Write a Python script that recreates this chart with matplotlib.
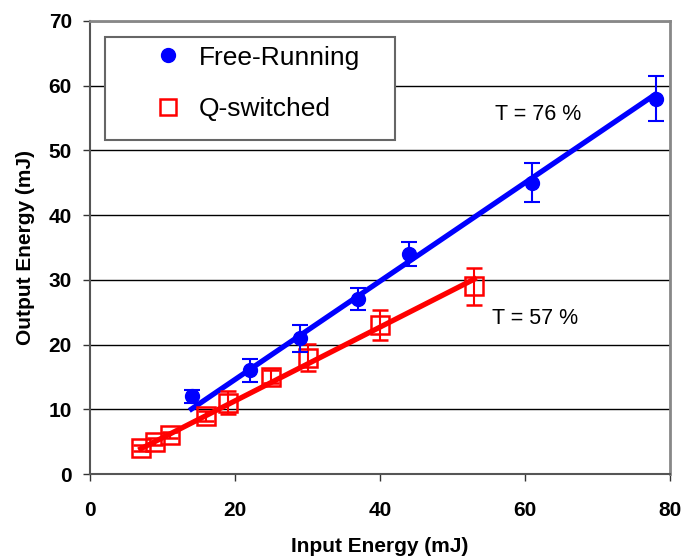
import matplotlib
matplotlib.use("Agg")
import matplotlib.pyplot as plt
from matplotlib.lines import Line2D
from matplotlib.patches import Rectangle
import numpy as np

plt.rcParams['font.family'] = ['Liberation Sans', 'DejaVu Sans']

# Free-running laser output
fr_in = [14, 22, 29, 37, 44, 61, 78]
fr_out = [12, 16, 21, 27, 34, 45, 58]
fr_err = [1.0, 1.8, 2.1, 1.7, 1.8, 3.0, 3.5]

# Q-switched laser output
qs_in = [7, 9, 11, 16, 19, 25, 30, 40, 53]
qs_out = [4, 5, 6, 9, 11, 15, 18, 23, 29]
qs_err = [0.5, 0.5, 0.5, 0.8, 1.8, 1.0, 2.1, 2.3, 2.9]

# Linear fits (slope = transmission efficiency)
fr_slope, fr_icpt = 0.76, -0.6
qs_slope, qs_icpt = 0.57, -0.1

fr_label = "T = 76 %"
qs_label = "T = 57 %"

fig = plt.figure(figsize=(6.94, 5.56), dpi=100)
ax = fig.add_axes([90 / 694, 82 / 556, 580 / 694, 453 / 556])

ax.set_xlim(0, 80)
ax.set_ylim(0, 70)
ax.set_xticks([0, 20, 40, 60, 80])
ax.set_yticks(np.arange(0, 71, 10))
ax.yaxis.grid(True, color='black', linewidth=1.0)
ax.set_axisbelow(True)

for s in ['top', 'right']:
    ax.spines[s].set_color('#888888')
    ax.spines[s].set_linewidth(2.0)
for s in ['left', 'bottom']:
    ax.spines[s].set_color('#555555')
    ax.spines[s].set_linewidth(1.5)

ax.tick_params(axis='both', direction='out', length=5, width=1, color='#333333',
               labelsize=15, pad=8)
ax.tick_params(axis='x', pad=14.5)
for lab in ax.get_xticklabels() + ax.get_yticklabels():
    lab.set_fontweight('bold')

ax.set_xlabel("Input Energy (mJ)", fontsize=15, fontweight='bold', labelpad=12)
ax.set_ylabel("Output Energy (mJ)", fontsize=15, fontweight='bold', labelpad=10)

# Fit lines
xf = np.array([fr_in[0], fr_in[-1]])
ax.plot(xf, fr_slope * xf + fr_icpt, color='blue', linewidth=3.8, zorder=3)
xq = np.array([qs_in[0], qs_in[-1]])
ax.plot(xq, qs_slope * xq + qs_icpt, color='red', linewidth=3.8, zorder=3)

# Data with error bars
ax.errorbar(qs_in, qs_out, yerr=qs_err, fmt='s', color='red', markersize=13,
            markerfacecolor='none', markeredgewidth=1.8, elinewidth=1.5,
            capsize=6, capthick=1.5, zorder=4)
ax.errorbar(fr_in, fr_out, yerr=fr_err, fmt='o', color='blue', markersize=10,
            elinewidth=1.5, capsize=6, capthick=1.5, zorder=5)

ax.text(55.9, 55.6, fr_label, fontsize=15.5, va='center', ha='left')
ax.text(55.5, 24.0, qs_label, fontsize=15.5, va='center', ha='left')

# Legend with a separate frame
frame = Rectangle((0.026, 0.737), 0.5, 0.2277, transform=ax.transAxes,
                  facecolor='white', edgecolor='#666666', linewidth=1.5, zorder=6)
ax.add_patch(frame)
handles = [
    Line2D([], [], marker='o', color='blue', linestyle='none', markersize=10),
    Line2D([], [], marker='s', color='red', markerfacecolor='none',
           markeredgewidth=1.8, linestyle='none', markersize=12),
]
leg = ax.legend(handles, ["Free-Running", "Q-switched"], frameon=False,
                loc='upper left', bbox_to_anchor=(0.0896, 0.975),
                fontsize=19, borderpad=0, handlelength=1.0, handletextpad=0.65,
                labelspacing=1.06)
leg.set_zorder(7)

fig.savefig("out.png", dpi=100)
